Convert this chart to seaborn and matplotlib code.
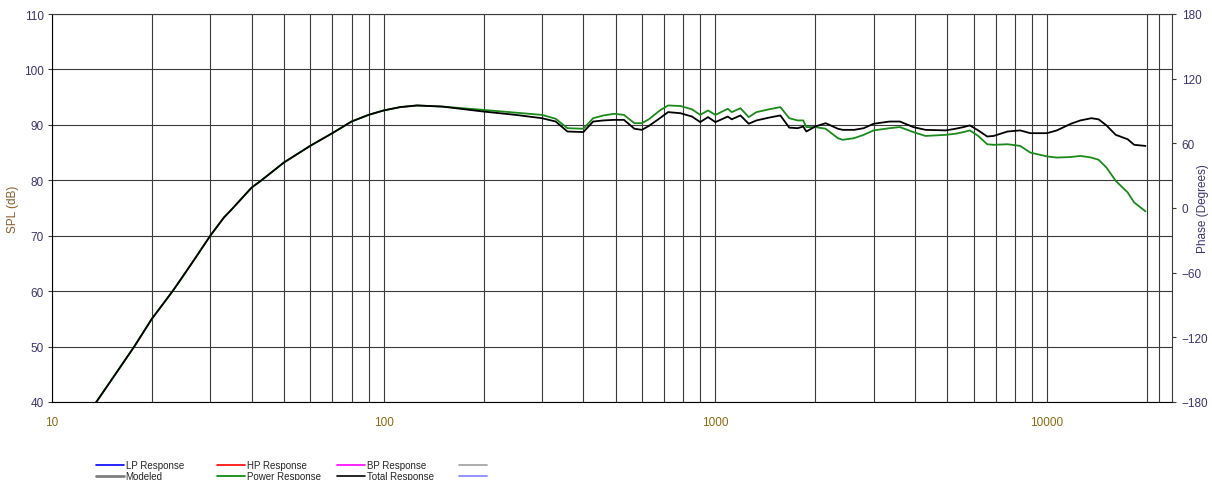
import numpy as np
import pandas as pd
import matplotlib
matplotlib.use("Agg")
import matplotlib.pyplot as plt
from matplotlib.lines import Line2D
from matplotlib.ticker import FixedLocator, NullFormatter, FuncFormatter
import seaborn as sns

# Frequency points (Hz)
freq = [13, 13.6, 15, 17.7, 20, 23.1, 24.5, 27, 30, 33,
        35, 40, 42.6, 50, 60, 70, 80, 90, 100, 112,
        126, 150, 200, 250, 300, 330, 358, 400, 428, 460,
        495, 530, 570, 600, 630, 680, 720, 785, 850, 900,
        950, 1000, 1090, 1120, 1190, 1260, 1330, 1450, 1570, 1670,
        1770, 1840, 1880, 2000, 2150, 2340, 2420, 2620, 2800, 3000,
        3350, 3600, 3950, 4300, 4950, 5300, 5600, 5850, 6200, 6600,
        6900, 7600, 8300, 8900, 10000, 10700, 11800, 12600, 13600, 14300,
        15100, 16100, 17500, 18300, 19800]

# Total response (black), dB
total_spl = [38.8, 40.0, 43.7, 50.0, 55.0, 60.0, 62.2, 65.9, 70.0, 73.3,
             74.9, 78.7, 79.9, 83.2, 86.2, 88.5, 90.6, 91.8, 92.6, 93.2,
             93.5, 93.3, 92.4, 91.8, 91.2, 90.6, 88.8, 88.7, 90.6, 90.8,
             90.9, 90.9, 89.3, 89.1, 89.8, 91.2, 92.3, 92.1, 91.5, 90.5,
             91.4, 90.5, 91.5, 91.0, 91.7, 90.2, 90.8, 91.3, 91.7, 89.5,
             89.4, 89.7, 88.8, 89.7, 90.3, 89.3, 89.1, 89.1, 89.4, 90.2,
             90.6, 90.6, 89.6, 89.1, 89.0, 89.3, 89.6, 89.9, 89.0, 87.9,
             88.0, 88.8, 89.0, 88.5, 88.5, 89.0, 90.2, 90.8, 91.2, 91.0,
             89.9, 88.2, 87.4, 86.4, 86.2]

# Power response (green), dB
power_spl = [38.8, 40.0, 43.7, 50.0, 55.0, 60.0, 62.2, 65.9, 70.0, 73.3,
             74.9, 78.7, 79.9, 83.2, 86.2, 88.5, 90.6, 91.8, 92.6, 93.2,
             93.5, 93.3, 92.7, 92.2, 91.8, 91.1, 89.4, 89.3, 91.2, 91.7,
             92.0, 91.8, 90.3, 90.3, 91.0, 92.6, 93.5, 93.4, 92.8, 91.8,
             92.6, 91.8, 92.9, 92.3, 93.0, 91.4, 92.3, 92.8, 93.2, 91.2,
             90.8, 90.8, 89.6, 89.6, 89.3, 87.6, 87.3, 87.6, 88.2, 89.0,
             89.4, 89.6, 88.7, 88.0, 88.2, 88.4, 88.7, 89.0, 88.0, 86.5,
             86.4, 86.5, 86.2, 85.0, 84.3, 84.1, 84.2, 84.4, 84.1, 83.7,
             82.3, 79.9, 77.8, 76.0, 74.4]

major_x = [10, 100, 1000, 10000]
minor_x = [m * d for d in [10, 100, 1000, 10000] for m in range(2, 10)]
minor_x = [v for v in minor_x if v <= 20000] + [21700]
spl_ticks = list(range(40, 111, 10))
phase_ticks = list(range(-180, 181, 60))

df = pd.DataFrame({"freq": freq, "total": total_spl, "power": power_spl})

sns.set_style("white")
plt.rcParams["font.family"] = ["Liberation Sans", "DejaVu Sans"]

fig = plt.figure(figsize=(12.12, 4.81), dpi=100)
ax = fig.add_axes([52 / 1212, 1 - 403 / 481, 1120 / 1212, 388 / 481])

sns.lineplot(data=df, x="freq", y="power", color="#1a8a1a", linewidth=1.3, ax=ax)
sns.lineplot(data=df, x="freq", y="total", color="black", linewidth=1.3, ax=ax)

ax.set_xscale("log")
ax.set_xlim(10, 23800)
ax.set_ylim(40, 110)
ax.xaxis.set_major_locator(FixedLocator(major_x))
ax.xaxis.set_minor_locator(FixedLocator(minor_x))
ax.xaxis.set_major_formatter(FuncFormatter(lambda v, p: f"{int(v)}"))
ax.xaxis.set_minor_formatter(NullFormatter())
ax.set_yticks(spl_ticks)
ax.grid(True, which="both", color="#3a3a3a", linewidth=0.8)
ax.set_axisbelow(True)

ax.tick_params(axis="x", which="both", length=0, pad=10, labelsize=8.5, labelcolor="#8a6a10")
ax.tick_params(axis="y", which="major", left=True, length=3, width=0.8, pad=3,
               labelsize=8.5, labelcolor="#3c3470", color="#3a3a3a")
ax.set_xlabel("")
ax.set_ylabel("SPL (dB)", fontsize=8.5, color="#8a5a2a")
ax.yaxis.set_label_coords(-33 / 1120, 0.5)
for s in ax.spines.values():
    s.set_color("#3a3a3a")
    s.set_linewidth(0.8)
ax.spines["left"].set_color("black")
ax.spines["bottom"].set_color("black")

ax2 = ax.twinx()
ax2.set_ylim(-180, 180)
ax2.set_yticks(phase_ticks)
ax2.tick_params(axis="y", length=3, width=0.8, pad=4, labelsize=8.5,
                labelcolor="#3c3470", color="#3a3a3a")
ax2.set_ylabel("Phase (Degrees)", fontsize=8.5, color="#3c3470")
ax2.yaxis.set_label_coords(1 + 25 / 1120, 0.5)
ax2.grid(False)
for s in ax2.spines.values():
    s.set_visible(False)

# Legend: four small columns of two entries
legend_cols = [
    [("LP Response", "#0000ff", 1.2), ("Modeled", "#808080", 2.0)],
    [("HP Response", "#ff0000", 1.2), ("Power Response", "#008000", 1.2)],
    [("BP Response", "#ff00ff", 1.2), ("Total Response", "black", 1.2)],
    [("", "#a0a0a0", 1.2), ("", "#8080ff", 1.2)],
]
col_x = [96, 217, 337, 459]
for cx, entries in zip(col_x, legend_cols):
    handles = [Line2D([], [], color=c, linewidth=w) for _, c, w in entries]
    labels = [t for t, _, _ in entries]
    fig.legend(handles, labels, loc="upper left",
               bbox_to_anchor=(cx / 1212, 1 - 461 / 481), frameon=False,
               fontsize=7, handlelength=2.9, handletextpad=0.15,
               labelspacing=0.1, borderpad=0, borderaxespad=0)

fig.savefig("out.png", dpi=100)
